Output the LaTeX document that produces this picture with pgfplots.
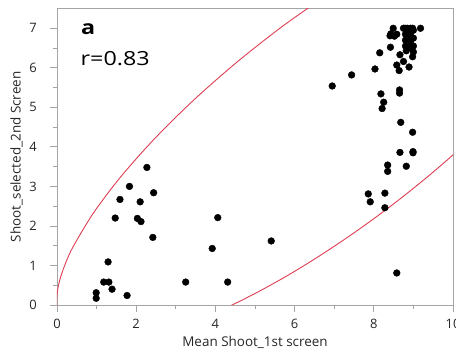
\documentclass[border=0pt]{standalone}
\usepackage{pgfplots}
\pgfplotsset{compat=1.18}
\usepackage{fontspec}
\setmainfont{Open Sans}
\newfontfamily\annfont[FakeStretch=1.2]{Open Sans}
\definecolor{ellred}{RGB}{222,62,82}
\definecolor{framec}{RGB}{165,165,165}

\pgfplotstableread{
x y
0.99 0.31
0.99 0.17
1.18 0.58
1.31 0.58
1.29 1.09
1.39 0.40
1.47 2.20
1.59 2.67
1.83 3.00
1.77 0.24
2.03 2.19
2.12 2.11
2.10 2.61
2.27 3.48
2.44 2.84
2.42 1.71
3.25 0.58
3.92 1.43
4.06 2.21
4.31 0.58
5.41 1.62
6.95 5.54
7.44 5.82
8.03 5.97
8.15 6.38
8.18 5.34
8.25 5.13
8.21 4.97
8.42 6.52
8.41 6.81
8.43 6.86
8.52 6.80
8.49 7.00
8.58 6.85
8.66 6.33
8.75 6.16
8.58 6.07
8.64 5.93
8.89 6.02
8.65 5.44
8.65 5.36
8.68 4.62
8.98 4.37
8.75 7.00
8.79 7.00
8.85 7.00
8.93 7.00
8.98 7.00
9.18 7.00
8.93 6.90
8.93 6.80
8.93 6.70
8.93 6.60
8.93 6.50
9.00 6.95
9.00 6.75
9.00 6.55
9.00 6.40
8.98 6.28
8.80 6.85
8.80 6.70
8.80 6.55
8.82 6.43
8.66 3.86
8.99 3.88
8.99 3.85
8.35 3.54
8.35 3.38
8.82 3.51
7.86 2.81
7.91 2.61
8.28 2.83
8.28 2.46
8.58 0.81
}\pts

\begin{document}
\begin{tikzpicture}
\begin{axis}[
  scale only axis, width=396bp, height=296.5bp,
  xmin=0, xmax=10, ymin=0, ymax=7.5,
  axis line style={framec, line width=0.8pt},
  xtick={0,2,...,10}, minor xtick={1,3,...,9},
  ytick={0,1,...,7}, minor ytick={0.5,1.5,...,6.5},
  tick align=outside, tick pos=left,
  major tick length=7bp, minor tick length=4bp,
  every tick/.style={framec, line width=0.8pt},
  /pgf/number format/assume math mode=true,
  ticklabel style={font=\fontsize{13}{15}\selectfont, text=black!85},
  xticklabel style={inner sep=0pt, yshift=-7bp},
  yticklabel style={inner sep=0pt, xshift=-13bp},
  every axis x label/.style={at={(axis description cs:0.5,-0.1383)}, anchor=base, font=\fontsize{13.5}{16}\selectfont, text=black!85},
  every axis y label/.style={at={(axis description cs:-0.0917,0.5)}, rotate=90, anchor=base, font=\fontsize{13.5}{16}\selectfont, text=black!85},
  xlabel={Mean Shoot\_1st screen},
  ylabel={Shoot\_selected\_2nd Screen},
  clip=true,
]
\addplot[ellred, line width=0.9pt, smooth] coordinates {
(0.030,-0.218) (0.0015,-0.068) (-0.008,0.095) (0.0015,0.272) (0.030,0.460) (0.098,0.728) (0.229,1.091) (0.411,1.481) (0.922,2.330) (1.617,3.252) (2.473,4.216) (3.465,5.196) (4.562,6.159) (5.731,7.077) (6.937,7.922)
};
\addplot[ellred, line width=0.9pt, smooth] coordinates {
(4.002,-0.193) (4.562,0.068) (5.140,0.365) (5.731,0.693) (6.332,1.054) (6.937,1.443) (7.542,1.854) (8.143,2.288) (8.735,2.740) (9.312,3.206) (9.872,3.684) (10.410,4.170)
};
\addplot[only marks, mark=*, mark size=3.4pt, black, mark options={fill=black, draw=black}] table[x=x,y=y] {\pts};
\node[anchor=base west, inner sep=0pt, font=\annfont\fontsize{19.5}{22}\selectfont\bfseries] at (axis description cs:0.0606,0.911) {a};
\node[anchor=base west, inner sep=0pt, font=\annfont\fontsize{19.5}{22}\selectfont] at (axis description cs:0.0593,0.808) {r=0.83};
\end{axis}
\pgfresetboundingbox
\path (current axis.south west) ++(-57bp,-48bp) rectangle ++(456bp,353bp);
\end{tikzpicture}
\end{document}
